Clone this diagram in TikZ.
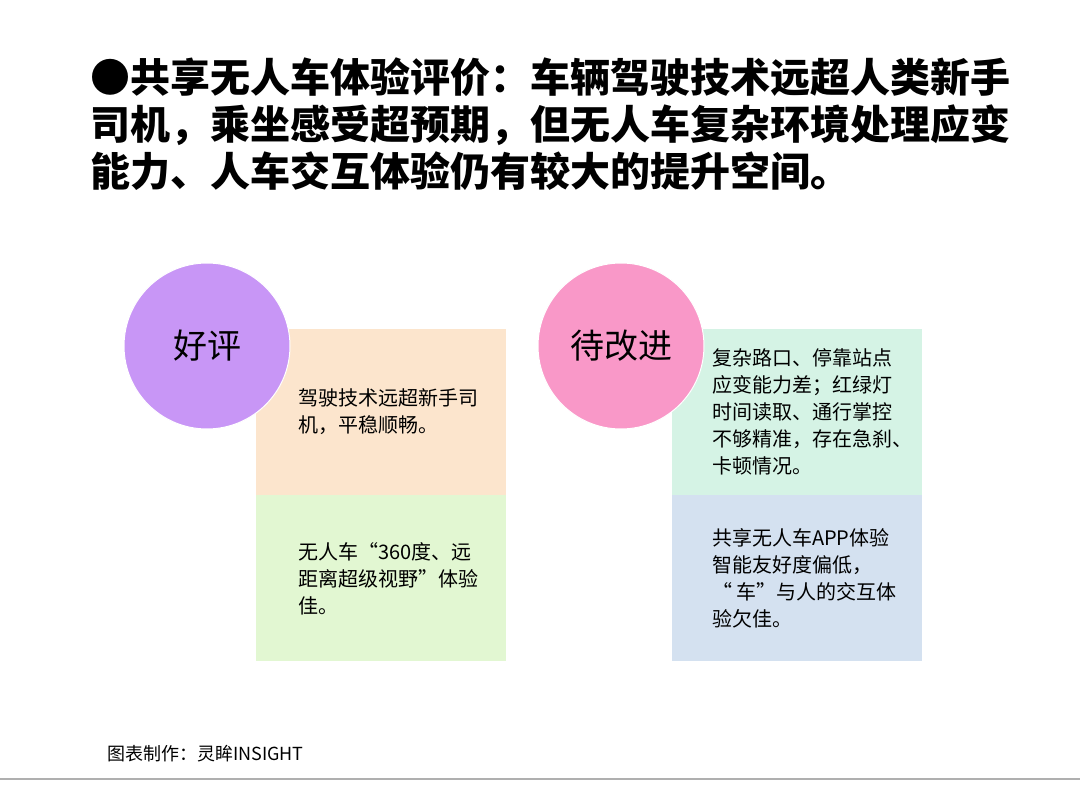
\documentclass[tikz,border=0pt]{standalone}
\usepackage{fontspec}
\usepackage{tikz}
\usetikzlibrary{positioning}
\newfontfamily\cjk{Noto Sans CJK SC}
\definecolor{goodpurple}{RGB}{200,150,246}
\definecolor{todopink}{RGB}{249,152,200}
\definecolor{peach}{RGB}{252,229,205}
\definecolor{leafgreen}{RGB}{226,247,210}
\definecolor{mint}{RGB}{213,243,229}
\definecolor{paleblue}{RGB}{212,225,240}
\definecolor{rulegray}{RGB}{175,175,175}

\begin{document}
\begin{tikzpicture}[x=1pt, y=-1pt, every node/.style={inner sep=0pt, font=\cjk},
  card/.style={minimum width=250pt, minimum height=166pt},
  badge/.style={circle, draw=white, line width=1pt, minimum size=166pt,
    font=\cjk\fontsize{34}{34}\selectfont},
  note/.style={align=left, anchor=west, font=\cjk\fontsize{20}{27}\selectfont}]
  \useasboundingbox (0,0) rectangle (1080,794);
  % title
  \node[anchor=west, align=left, font=\cjk\bfseries\fontsize{40}{47}\selectfont] (title) at (90,124)
    {●共享无人车体验评价：车辆驾驶技术远超人类新手\\司机，乘坐感受超预期，但无人车复杂环境处理应变\\能力、人车交互体验仍有较大的提升空间。};
  % cards
  \node[card, fill=peach] (goodA) at (381,412) {};
  \node[card, fill=leafgreen, below=0pt of goodA] (goodB) {};
  \node[card, fill=mint] (todoA) at (797,412) {};
  \node[card, fill=paleblue, below=0pt of todoA] (todoB) {};
  \node[note, right=42pt of goodA.west] (goodAtext) {驾驶技术远超新手司\\机，平稳顺畅。};
  \node[note, right=42pt of goodB.west] (goodBtext) {无人车“360度、远\\距离超级视野”体验\\佳。};
  \node[note, right=40pt of todoA.west] (todoAtext) {复杂路口、停靠站点\\应变能力差；红绿灯\\时间读取、通行掌控\\不够精准，存在急刹、\\卡顿情况。};
  \node[note, right=40pt of todoB.west] (todoBtext) {共享无人车APP体验\\智能友好度偏低，\\“ 车”与人的交互体\\验欠佳。};
  % badges
  \node[badge, fill=goodpurple] (good) at (207,346) {好评};
  \node[badge, fill=todopink] (todo) at (621,346) {待改进};
  % source
  \node[anchor=west, font=\cjk\fontsize{18}{18}\selectfont] (source) at (107,754) {图表制作：灵眸INSIGHT};
  \draw[rulegray, line width=2pt] (0,779) -- (1080,779);
\end{tikzpicture}
\end{document}
